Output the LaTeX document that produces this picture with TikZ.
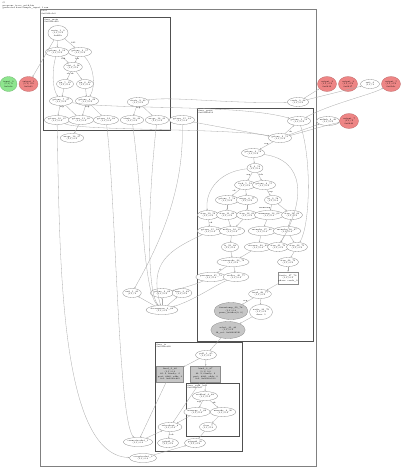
\documentclass[tikz,border=0pt]{standalone}
\usetikzlibrary{shapes.geometric,arrows.meta}
\newcommand{\ft}{\fontsize{2.1}{2.5}\selectfont}
\definecolor{edgec}{HTML}{A8A8A8}
\definecolor{nodec}{HTML}{8C8C8C}
\definecolor{clus}{HTML}{505050}
\definecolor{grn}{HTML}{8EE58E}
\definecolor{rd}{HTML}{EE8585}
\definecolor{gfill}{HTML}{C6C6C6}
\tikzset{
 nd/.style={ellipse, draw=nodec, line width=0.3pt, fill=white, inner sep=0pt, minimum width=21pt, minimum height=9pt, align=center, font=\ft},
 nd3/.style={nd, minimum height=15pt, minimum width=20pt},
 red3/.style={nd3, fill=rd, draw=rd!80!black, minimum width=19pt},
 grn3/.style={nd3, fill=grn, draw=grn!80!black, minimum width=17pt},
 gry3/.style={nd3, fill=gfill, minimum width=30pt, minimum height=17pt},
 rbox/.style={rectangle, draw=nodec, line width=0.3pt, fill=gfill, align=center, font=\ft, inner sep=0.5pt, minimum width=27pt, minimum height=16pt},
 wbox/.style={rbox, fill=white, minimum width=20pt, minimum height=12pt},
 ed/.style={draw=edgec, line width=0.3pt, -{Stealth[length=1.6pt,width=1.3pt]}},
 cl/.style={draw=clus, line width=0.6pt},
 cll/.style={font=\ft, anchor=north west, align=left, inner sep=0.5pt},
 el/.style={font=\ft, inner sep=0.3pt}
}
\begin{document}
\begin{tikzpicture}[x=1pt,y=-1pt]
\useasboundingbox[fill=white] (0,0) rectangle (400,469);
% title
\node[cll] (title) at (2,1.5) {G\\program: trace\_path.bin\\generated from sample\_input, 1 run};
% clusters
\draw[cl, draw=gray, line width=0.8pt] (40,9) rectangle (316,466);
\node[cll] (lo) at (41,10) {root\\0x0040a1c0};
\draw[cl] (43,17) rectangle (170,130);
\node[cll] (la) at (44,18) {func\_main\\0x0040a2f0};
\draw[cl] (197,108) rectangle (313,341);
\node[cll] (lb) at (198,109) {func\_parse\\0x0040b410};
\draw[cl] (155,342) rectangle (242,451);
\node[cll] (lc) at (156,343) {func\_io\\0x0040c820};
\draw[cl] (186,383) rectangle (239,436);
\node[cll] (ld) at (187,384) {func\_read\_buf\\0x0040c9a0};
% outside nodes
\node[grn3] (g1) at (8.5,84) {input\_0\\(1,1) 0\\0x0a2e};
\node[red3] (r1) at (28.5,84) {output\_1\\(1,1) 0.0\\0x0a31};
\node[red3] (r2) at (327,84) {output\_2\\(1,1) 0.0\\0x0b12};
\node[red3] (r3) at (348,84) {output\_3\\(1,1) 0.0\\0x0b17};
\node[nd, minimum width=19pt] (w1) at (370,84) {exit\_4\\(1,1) 0};
\node[red3] (r4) at (391,84) {output\_5\\(1,1) 0.0\\0x0b2c};
\node[nd] (w2) at (328,121) {unlink\_6\_49\\(1,1) 0.0};
\node[red3] (r5) at (349,121) {output\_7\\(1,1) 0\\0x0b40};
\node[nd] (crash) at (298,102) {crash\_0\_48\\(1,1) 0.0};
\node[nd] (osage) at (72,138) {usage\_16\_47\\(1,1) 0.0};
% cluster A
\node[nd3] (a1) at (58,33) {main\_1\_0\\(1,1) 0.0\\0x4f2a};
\node[nd] (a2) at (57,52) {getenv\_2\_12\\(1,1) 0.0};
\node[nd] (a3) at (80,52) {getenv\_3\_17\\(1,1) 0.0};
\node[nd, minimum width=18pt] (a4) at (73,67) {atoi\_4\_18\\(1,1) 0.0};
\node[nd, minimum width=17pt] (a5) at (65,84) {pu\_5\_19\\(1,1) 0.0};
\node[nd, minimum width=17pt] (a6) at (85,84) {pu\_6\_20\\(1,1) 0.0};
\node[nd] (a7) at (61,101) {getenv\_7\_27\\(1,1) 0.0};
\node[nd] (a8) at (87,101) {getenv\_8\_29\\(1,1) 0.0};
\node[nd] (a9) at (138,102) {strstr\_9\_33\\(1,1) 0.0};
\node[nd] (a10) at (57,120) {getenv\_10\_35\\(1,1) 0.0};
\node[nd] (a11) at (81,120) {getenv\_11\_36\\(1,1) 0.0};
\node[nd] (a12) at (106,120) {getenv\_12\_38\\(1,1) 0.0};
\node[nd] (a13) at (132,120) {strstr\_13\_40\\(1,1) 0.0};
\node[nd] (a14) at (157,120) {usage\_14\_41\\(1,1) 0.0};
\node[nd] (b0) at (182,120) {getenv\_15\_44\\(1,1) 0.0};
% cluster B
\node[nd] (b1) at (299,121) {getenv\_1\_50\\(1,1) 0.0};
\node[nd] (b2) at (280,138) {getenv\_2\_51\\(1,1) 0.0};
\node[nd] (b3) at (253,153) {getenv\_3\_52\\(1,1) 0.0};
\node[nd, minimum width=16pt] (b4) at (255,168) {lt\_4\_53\\(1,1) 0.0};
\node[nd] (b5) at (245,185) {fork\_5\_54\\(1,1) 0.0};
\node[nd] (b6) at (264,185) {getenv\_6\_55\\(1,1) 0.0};
\node[nd] (b7) at (227,200) {getenv\_7\_56\\(1,1) 0.0};
\node[nd] (b8) at (247,200) {usage\_8\_57\\(1,1) 0.0};
\node[nd, minimum width=17pt] (b9) at (273,200) {lu\_9\_58\\(1,1) 0.0};
\node[nd, minimum width=18pt] (b10) at (208,215) {strn\_10\_59\\(1,1) 0.0};
\node[nd, minimum width=18pt] (b11) at (227,215) {strn\_11\_60\\(1,1) 0.0};
\node[nd, minimum width=18pt] (b12) at (247,215) {strn\_12\_61\\(1,1) 0.0};
\node[nd, minimum width=24pt] (b13) at (269,215) {memcmp\_13\_62\\(1,1) 0.0};
\node[nd, minimum width=18pt] (b14) at (292,215) {strn\_14\_63\\(1,1) 0.0};
\node[nd] (b15) at (210,231) {getenv\_15\_64\\(1,1) 0.0};
\node[nd] (b16) at (232,231) {malloc\_16\_65\\(1,1) 0.0};
\node[nd] (b17) at (262,231) {memchr\_17\_66\\(1,1) 0.0};
\node[nd] (b18) at (287,231) {memchr\_18\_67\\(1,1) 0.0};
\node[nd, minimum width=17pt] (b19) at (230,247) {lo\_19\_68\\(1,1) 0.0};
\node[nd, minimum width=25pt] (b20) at (258,247) {strerror\_20\_69\\(1,1) 0.0};
\node[nd, minimum width=18pt] (b21) at (278,247) {strn\_21\_70\\(1,1) 0.0};
\node[nd, minimum width=18pt] (b22) at (297,247) {strn\_22\_71\\(1,1) 0.0};
\node[nd, minimum width=24pt] (b23) at (233,262) {crossroads\_23\_72\\(1,1) 0.0};
\node[nd, minimum width=18pt] (b24) at (288,262) {strn\_24\_73\\(1,1) 0.0};
\node[nd] (b25) at (211,277) {precursor\_25\_74\\(1,1) 0.0};
\node[nd] (b26) at (236,277) {realloc\_26\_75\\(1,1) 0.0};
\node[wbox] (b27) at (288,278) {fwrite\_27\_76\\(1,1) 0.0\\phase: crash\_0};
\node[nd] (b28) at (260,294) {fread\_28\_77\\(1,1) 0.0};
\node[gry3] (b29) at (231,311) {timestamp\_29\_78\\(1,1) 0.0\\parse\_header(0, 0)};
\node[nd3, minimum width=19pt] (b30) at (261,312) {write\_30\_79\\(1,1) 0.0\\done: 1};
\node[gry3] (g2) at (228,330) {select\_31\_80\\(1,1) 0.0\\fd\_set: 0x0040b5f0};
% below B, outside clusters
\node[nd, minimum width=18pt] (c1) at (132,293) {exit\_1\_81\\(1,1) 0};
\node[nd] (c2) at (162,293) {getenv\_2\_82\\(1,1) 0.0};
\node[nd, minimum width=19pt] (c3) at (182,293) {sync\_3\_83\\(1,1) 0.0};
\node[nd, minimum width=25pt] (c4) at (162,310) {decompress\_4\_84\\(1,1) 0.0};
% cluster C
\node[nd] (d1) at (206,355) {poll\_1\_85\\(1,1) 0.0};
\node[rbox] (d2) at (170,374) {bind\_2\_86\\(1,1) 0.0\\fd: 3, family: 2\\port: 8080, addr: 0\\tid: 0x0040c8f0};
\node[rbox, minimum width=30pt] (d3) at (205.5,374) {bind\_3\_87\\(1,1) 0.0\\fd: 4, family: 2\\port: 8081, addr: 0\\tid: 0x0040c910};
\node[nd, minimum width=24pt] (d4) at (205,396) {readbuf\_4\_88\\(1,1) 0.0};
\node[nd] (d5) at (197,412) {memcpy\_5\_89\\(1,1) 0.0};
\node[nd] (d6) at (223,412) {memchr\_6\_90\\(1,1) 0.0};
\node[nd, minimum width=17pt] (d7) at (208,427) {close\_7\\(1,1) 0.0};
\node[nd, minimum width=24pt] (d8) at (170,427) {setsockopt\_8\\(1,1) 0.0};
\node[nd] (d9) at (168,443) {getpid\_9\\(1,1) 0.0};
\node[nd] (d10) at (195,443) {getppid\_10\\(1,1) 0.0};
\node[nd, minimum width=26pt] (e1) at (138,442) {connectsocket\_1\\(1,1) 0.0};
\node[nd, minimum width=26pt] (e2) at (143,458) {acceptsocket\_2\\(1,1) 0.0};
% edges cluster A
\draw[ed] (a1) -- (a2);
\draw[ed] (a1) -- (a3) node[el, pos=0.6, above right] {fall};
\draw[ed] (a1) -- (r1);
\draw[ed] (a2) -- (a4) node[el, pos=0.25, below] {tok};
\draw[ed] (a2) .. controls (52,70) and (52,88) .. (a7);
\draw[ed] (a3) -- (a4) node[el, pos=0.25, below] {tok};
\draw[ed] (a3) .. controls (94,66) and (96,86) .. (a8);
\draw[ed] (a4) -- (a5) node[el, pos=0.15, below] {ok ok};
\draw[ed] (a4) -- (a6);
\draw[ed] (a5) -- (a7);
\draw[ed] (a6) -- (a8);
\draw[ed] (a7) -- (a10) node[el, pos=0.2, right] {sep};
\draw[ed] (a7) -- (a11);
\draw[ed] (a8) -- (a11) node[el, pos=0.2, right] {sep};
\draw[ed] (a8) -- (a12);
\draw[ed] (a9) -- (a13) node[el, pos=0.2, right] {sep};
\draw[ed] (a9) -- (a14);
\draw[ed] (crash) .. controls (230,104) and (170,96) .. (a9);
\draw[ed] (a7) .. controls (120,110) and (240,104) .. (b1);
\draw[ed] (a10) .. controls (80,131) and (230,128) .. (b2);
\draw[ed] (a11) -- (osage);
% right outside edges
\draw[ed] (crash) -- (r2);
\draw[ed] (crash) -- (w1);
\draw[ed] (b1) .. controls (330,104) and (370,95) .. (r4);
\draw[ed] (b2) -- (w2);
\draw[ed] (b2) .. controls (300,133) and (330,124) .. (r5);
\draw[ed] (b0) -- (b2);
% cluster B
\draw[ed] (b2) -- (b1) node[el, pos=0.4, below right] {ok};
\draw[ed] (b2) -- (b3) node[el, pos=0.5, above] {sep};
\draw[ed] (b3) -- (b4);
\draw[ed] (b4) -- (b5) node[el, pos=0.3, left] {sep};
\draw[ed] (b4) -- (b6) node[el, pos=0.3, right] {tok};
\draw[ed] (b4) .. controls (215,172) and (205,195) .. (b10);
\draw[ed] (b5) -- (b7) node[el, pos=0.5, above left] {ok};
\draw[ed] (b5) -- (b8);
\draw[ed] (b6) -- (b9) node[el, pos=0.4, right] {sep};
\draw[ed] (b7) -- (b11);
\draw[ed] (b8) -- (b12);
\draw[ed] (b9) -- (b13) node[el, pos=0.6, left] {memcmp};
\draw[ed] (b9) -- (b14);
\draw[ed] (b10) -- (b15) node[el, pos=0.5, right] {ok};
\draw[ed] (b11) -- (b16);
\draw[ed] (b12) -- (b16);
\draw[ed] (b13) -- (b17);
\draw[ed] (b14) -- (b18);
\draw[ed] (b16) -- (b19);
\draw[ed] (b17) -- (b20);
\draw[ed] (b18) -- (b21);
\draw[ed] (b18) -- (b22);
\draw[ed] (b19) -- (b23);
\draw[ed] (b20) -- (b23);
\draw[ed] (b22) -- (b24);
\draw[ed] (b24) -- (b27);
\draw[ed] (b23) -- (b25) node[el, pos=0.5, left] {rt};
\draw[ed] (b23) -- (b26);
\draw[ed] (b1) .. controls (312,160) and (310,225) .. (b22);
\draw[ed] (b3) .. controls (305,160) and (306,200) .. (b21);
\draw[ed] (b27) -- (b28);
\draw[ed] (b28) -- (b29) node[el, pos=0.5, left] {sep};
\draw[ed] (b28) -- (b30);
\draw[ed] (b30) -- (g2);
% below-B edges
\draw[ed] (b15) .. controls (170,250) and (148,262) .. (c4);
\draw[ed] (b25) .. controls (195,285) and (175,290) .. (c2);
\draw[ed] (b26) .. controls (215,285) and (195,300) .. (c4);
\draw[ed] (c4) -- (c1);
\draw[ed] (c4) -- (c2);
\draw[ed] (c4) -- (c3);
\draw[ed] (a13) .. controls (143,200) and (143,290) .. (c4);
\draw[ed] (a14) .. controls (148,200) and (146,290) .. (c4);
\draw[ed] (a12) .. controls (116,200) and (118,420) .. (e1);
\draw[ed] (a10) .. controls (60,250) and (58,455) .. (e2);
\draw[ed] (b0) .. controls (185,200) and (150,260) .. (c1);
% cluster C
\draw[ed] (g2) -- (d1);
\draw[ed] (d1) -- (d2);
\draw[ed] (d1) -- (d3);
\draw[ed] (d3) -- (d4);
\draw[ed] (d2) -- (e1);
\draw[ed] (d3) -- (d8);
\draw[ed] (d4) -- (d5) node[el, pos=0.3, left] {sep};
\draw[ed] (d4) -- (d6) node[el, pos=0.3, right] {ok};
\draw[ed] (d6) -- (d7);
\draw[ed] (d5) -- (d8);
\draw[ed] (d8) -- (d9) node[el, pos=0.5, right] {tok};
\draw[ed] (d7) -- (d10);
\draw[ed] (e1) -- (d8);
\draw[ed] (e2) -- (d10);
\end{tikzpicture}
\end{document}
